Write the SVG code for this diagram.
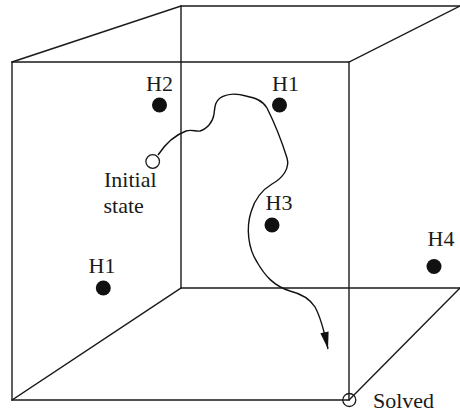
<svg xmlns="http://www.w3.org/2000/svg" width="460" height="411" viewBox="0 0 460 411">
<style>
.edge{fill:none;stroke:#1a1a1a;stroke-width:1.4;stroke-linecap:square}
.dot{fill:#111}
.open{fill:#fff;stroke:#1a1a1a;stroke-width:1.3}
.lbl{font-family:"Liberation Serif","Times New Roman",serif;font-size:22px;fill:#1a1a1a}
.mid{text-anchor:middle}
.path{fill:none;stroke:#111;stroke-width:1.4;stroke-linejoin:round}
</style>
<defs>
<marker id="ah" markerUnits="userSpaceOnUse" markerWidth="20" markerHeight="12" viewBox="0 -6 18 12" refX="17" refY="0" orient="auto">
<path d="M0,-4.2 L17,0 L0,4.2 z" fill="#111"/>
</marker>
</defs>
<g id="cube">
<path class="edge" d="M12,62 H349 V400 H12 Z"/>
<path class="edge" d="M12,62 L181,6 H460"/>
<path class="edge" d="M349,62 L460,6"/>
<path class="edge" d="M181,6 V288 H460"/>
<path class="edge" d="M12,400 L181,288"/>
<path class="edge" d="M349,400 L460,288"/>
</g>
<g id="connectors">
<path class="path" marker-end="url(#ah)" d="M158,155 C166,143 175,135 186,131 C192,129 196,132 200,131 C207,129 213,122 214,114 C215,106 215,102 220,98 C226,94 236,93 246,96 C255,98 262,100 267,108 C275,124 282,142 287,158 C290,168 283,178 272,184 C262,190 255,198 251,212 C246,228 248,248 257,262 C265,276 274,286 290,291 C302,294 310,299 315,307 C320,316 324,330 328,349"/>
</g>
<g id="H2">
<circle class="dot" cx="159.5" cy="105" r="7.5"/>
<text class="lbl mid" x="159.5" y="91">H2</text>
</g>
<g id="H1-top">
<circle class="dot" cx="279.5" cy="105" r="7.5"/>
<text class="lbl mid" x="285.5" y="91">H1</text>
</g>
<g id="H3">
<circle class="dot" cx="272" cy="225" r="7.5"/>
<text class="lbl mid" x="279" y="210">H3</text>
</g>
<g id="H4">
<circle class="dot" cx="434" cy="266.5" r="7.5"/>
<text class="lbl mid" x="441" y="246">H4</text>
</g>
<g id="H1-low">
<circle class="dot" cx="103.3" cy="288" r="7.5"/>
<text class="lbl mid" x="102" y="273">H1</text>
</g>
<g id="initial">
<circle class="open" cx="152.7" cy="161.5" r="6.8"/>
<text class="lbl" x="104" y="187">Initial</text>
<text class="lbl" x="103.5" y="212.5">state</text>
</g>
<g id="solved">
<circle class="open" cx="349.3" cy="400" r="6.5" style="fill:none"/>
<text class="lbl" x="373" y="407.5">Solved</text>
</g>
</svg>
